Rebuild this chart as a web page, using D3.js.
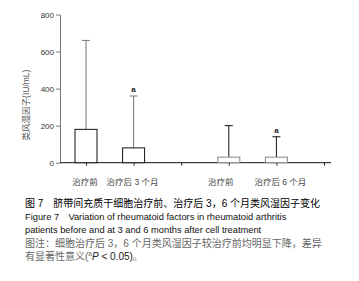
<!DOCTYPE html>
<html lang="zh">
  <head>
    <meta charset="utf-8">
    <title>类风湿因子变化</title>
    <style>
      body { margin: 0; background: #fff; }
      svg { display: block; }
      text { font-family: "Liberation Sans", Arial, "Noto Sans CJK SC", sans-serif; }
    </style>
    <script src="https://d3js.org/d3.v7.min.js"></script>
  </head>
  <body>
    <div class="viz"></div>
    <script>
    // values (IU/mL)
    const slotLabels = ["治疗前", "治疗后 3 个月", "", "治疗前", "治疗后 6 个月", ""];
    const means = [180, 80, null, 30, 30, null];
    const sds = [480, 280, null, 170, 110, null];
    const sigMarks = ["", "a", "", "", "a", ""];
    const yTicks = [0, 200, 400, 600, 800];

    const captionLines = [
      "图 7　脐带间充质干细胞治疗前、治疗后 3，6 个月类风湿因子变化",
      "Figure 7　Variation of rheumatoid factors in rheumatoid arthritis",
      "patients before and at 3 and 6 months after cell treatment",
      "图注：细胞治疗后 3，6 个月类风湿因子较治疗前均明显下降，差异"
    ];

    const width = 359, height = 281;
    const svg = d3.select(".viz").append("svg")
      .attr("width", width)
      .attr("height", height);

    const slots = d3.range(slotLabels.length);
    const x = d3.scalePoint().domain(slots).range([86, 324]);
    const y = d3.scaleLinear().domain([0, 800]).range([162.7, 14.5]);
    const barW = 22;

    // y axis
    const yAxis = svg.append("g")
      .attr("transform", "translate(60,0)")
      .call(d3.axisLeft(y).tickValues(yTicks).tickSize(4).tickPadding(2).tickSizeOuter(0));
    yAxis.select(".domain").attr("stroke", "#777");
    yAxis.selectAll(".tick line").attr("stroke", "#777");
    yAxis.selectAll("text").attr("fill", "#333").style("font-size", "8px");

    svg.append("text")
      .attr("transform", "translate(29,105) rotate(-90)")
      .attr("text-anchor", "middle")
      .attr("fill", "#555")
      .style("font-size", "8.5px")
      .text("类风湿因子(IU/mL)");

    // x axis
    const xAxis = svg.append("g")
      .attr("transform", `translate(0,${y(0)})`)
      .call(d3.axisBottom(x).tickSize(3).tickFormat(() => ""));
    xAxis.select(".domain").remove();
    xAxis.selectAll(".tick line").attr("stroke", "#222");
    svg.append("line")
      .attr("x1", 60).attr("x2", 331)
      .attr("y1", y(0)).attr("y2", y(0))
      .attr("stroke", "#111");

    const labelNudge = [-1, -1, 0, -8, 4, 0];
    svg.append("g").selectAll("text")
      .data(slots.filter(i => slotLabels[i]))
      .join("text")
      .attr("x", i => x(i) + labelNudge[i])
      .attr("y", 185)
      .attr("text-anchor", "middle")
      .attr("fill", "#444")
      .style("font-size", "8.5px")
      .text(i => slotLabels[i]);

    const filled = slots.filter(i => means[i] != null);

    // error bars
    const err = svg.append("g").selectAll("g")
      .data(filled)
      .join("g")
      .attr("stroke", i => i < 2 ? "#777" : "#111")
      .attr("stroke-width", 1);
    err.append("line")
      .attr("x1", i => x(i)).attr("x2", i => x(i))
      .attr("y1", i => y(means[i])).attr("y2", i => y(means[i] + sds[i]));
    err.append("line")
      .attr("x1", i => x(i) - 4).attr("x2", i => x(i) + 4)
      .attr("y1", i => y(means[i] + sds[i])).attr("y2", i => y(means[i] + sds[i]));

    // bars
    svg.append("g").selectAll("rect")
      .data(filled)
      .join("rect")
      .attr("x", i => x(i) - barW / 2)
      .attr("width", barW)
      .attr("y", i => y(means[i]))
      .attr("height", i => y(0) - y(means[i]))
      .attr("fill", "white")
      .attr("stroke", i => i < 2 ? "#111" : "#888")
      .attr("stroke-width", 1);

    // significance marks
    svg.append("g").selectAll("text")
      .data(filled.filter(i => sigMarks[i]))
      .join("text")
      .attr("x", i => x(i))
      .attr("y", i => y(means[i] + sds[i]) - 4)
      .attr("text-anchor", "middle")
      .attr("fill", "#222")
      .style("font-size", "8px")
      .style("font-weight", "bold")
      .text(i => sigMarks[i]);

    // caption
    const cap = svg.append("g").style("font-size", "10px");
    const lineColor = ["#000", "#111", "#111", "#666"];
    const lineSize = ["10px", "9.3px", "9.3px", "10px"];
    captionLines.forEach((t, k) => {
      cap.append("text")
        .attr("x", 25)
        .attr("y", 207 + k * 13.2)
        .attr("fill", lineColor[k])
        .style("font-size", lineSize[k])
        .text(t);
    });
    const last = cap.append("text")
      .attr("x", 25)
      .attr("y", 207 + 4 * 13.2)
      .attr("fill", "#666");
    last.append("tspan").text("有显著性意义(");
    last.append("tspan").attr("dy", -4).style("font-size", "6.5px").text("a");
    last.append("tspan").attr("dy", 4).style("font-style", "italic").attr("fill", "#222").text("P");
    last.append("tspan").attr("fill", "#222").text(" < 0.05)");
    last.append("tspan").text("。");
    </script>
  </body>
</html>
